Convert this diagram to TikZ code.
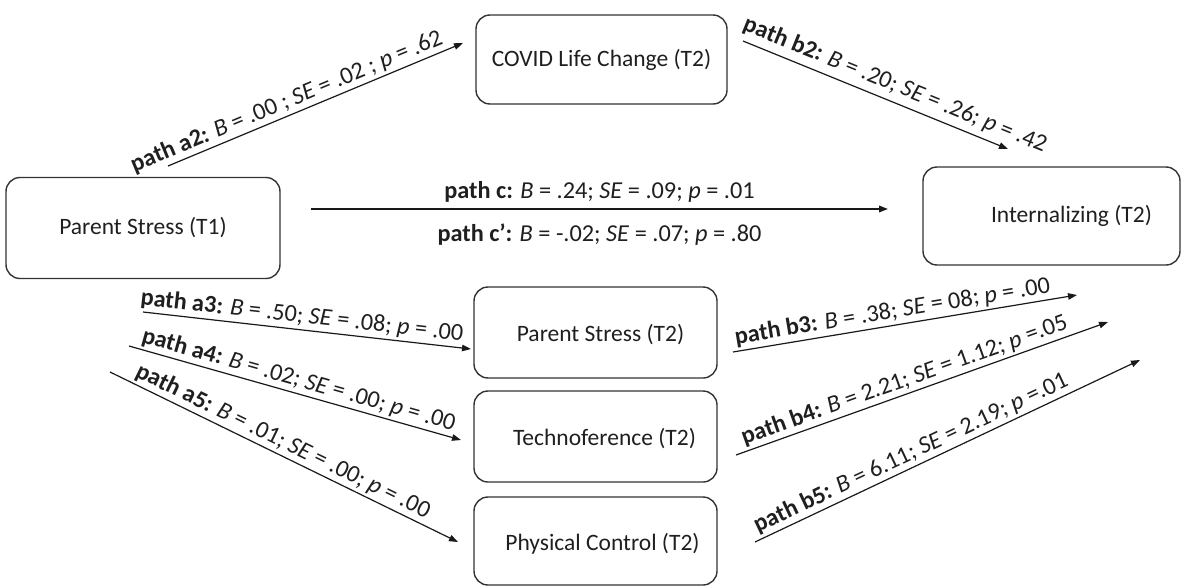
\documentclass[tikz,border=0pt]{standalone}
\usepackage{fontspec}
\setmainfont{Carlito}
\usetikzlibrary{arrows.meta}
\begin{document}
\begin{tikzpicture}[x=1pt,y=-1pt,
  every node/.style={font=\fontsize{23.5}{28}\selectfont, text=black!88},
  box/.style={draw=black!80, line width=1.4pt, rounded corners=14pt, inner sep=0pt},
  conn/.style={draw=black!90, line width=1.2pt, -{Triangle[length=9pt,width=6.5pt]}},
  lbl/.style={font=\fontsize{24.3}{29}\selectfont, inner sep=2.5pt}]
\useasboundingbox (0,0) rectangle (1183,586);

% variables
\node[box, minimum width=274pt, minimum height=101pt] (pst1) at (143,228) {Parent Stress (T1)};
\node[box, minimum width=251pt, minimum height=89pt] (covid) at (601.5,59.5) {COVID Life Change (T2)};
\node[box, minimum width=257pt, minimum height=98pt,
      label={[xshift=20pt]center:Internalizing (T2)}] (intern) at (1051.5,216) {};
\node[box, minimum width=243pt, minimum height=91pt,
      label={[xshift=5pt,yshift=-2pt]center:Parent Stress (T2)}] (pst2) at (595.5,332.5) {};
\node[box, minimum width=243pt, minimum height=91pt,
      label={[xshift=9pt,yshift=-2pt]center:Technoference (T2)}] (tech) at (595.5,436.5) {};
\node[box, minimum width=243pt, minimum height=88pt,
      label={[xshift=7pt,yshift=-3pt]center:Physical Control (T2)}] (phys) at (595.5,541) {};

% connector end points
\coordinate (a2s) at (168,166);  \coordinate (a2e) at (463,43);
\coordinate (b2s) at (743,41);   \coordinate (b2e) at (1008,149);
\coordinate (cs)  at (311,209);  \coordinate (ce)  at (888,209);
\coordinate (a3s) at (143,312);  \coordinate (a3e) at (471,349);
\coordinate (a4s) at (129,346);  \coordinate (a4e) at (461,440);
\coordinate (a5s) at (110,372);  \coordinate (a5e) at (458,542);
\coordinate (b3s) at (733,352);  \coordinate (b3e) at (1077,295);
\coordinate (b4s) at (736,455);  \coordinate (b4e) at (1108,322);
\coordinate (b5s) at (755,542);  \coordinate (b5e) at (1140,360);

% paths with estimates
\draw[conn] (a2s) -- node[lbl, sloped, above, pos=0.42] (la2)
  {\textbf{path a2:} \textit{B} = .00 ; \textit{SE} = .02 ; \textit{p} = .62} (a2e);
\draw[conn] (b2s) -- node[lbl, sloped, above=3pt, pos=0.55] (lb2)
  {\textbf{path b2:} \textit{B} = .20; \textit{SE} = .26; \textit{p} = .42} (b2e);
\draw[conn, line width=1.8pt] (cs) --
  node[lbl, above=3pt, pos=0.5] (lc)
  {\textbf{path c:} \textit{B} = .24; \textit{SE} = .09; \textit{p} = .01}
  node[lbl, below=11pt, pos=0.5] (lcp)
  {\textbf{path c’:} \textit{B} = -.02; \textit{SE} = .07; \textit{p} = .80} (ce);
\draw[conn] (a3s) -- node[lbl, sloped, above, pos=0.48] (la3)
  {\textbf{path a3:} \textit{B} = .50; \textit{SE} = .08; \textit{p} = .00} (a3e);
\draw[conn] (a4s) -- node[lbl, sloped, above, pos=0.5] (la4)
  {\textbf{path a4:} \textit{B} = .02; \textit{SE} = .00; \textit{p} = .00} (a4e);
\draw[conn] (a5s) -- node[lbl, sloped, above, pos=0.48] (la5)
  {\textbf{path a5:} \textit{B} = .01; \textit{SE} = .00; \textit{p} = .00} (a5e);
\draw[conn] (b3s) -- node[lbl, sloped, above, pos=0.47] (lb3)
  {\textbf{path b3:} \textit{B} = .38; \textit{SE} = 08; \textit{p} = .00} (b3e);
\draw[conn] (b4s) -- node[lbl, sloped, above, pos=0.465] (lb4)
  {\textbf{path b4:} \textit{B} = 2.21; \textit{SE} = 1.12; \textit{p} =.05} (b4e);
\draw[conn] (b5s) -- node[lbl, sloped, above, pos=0.42] (lb5)
  {\textbf{path b5:} \textit{B} = 6.11; \textit{SE} = 2.19; \textit{p} =.01} (b5e);
\end{tikzpicture}
\end{document}
